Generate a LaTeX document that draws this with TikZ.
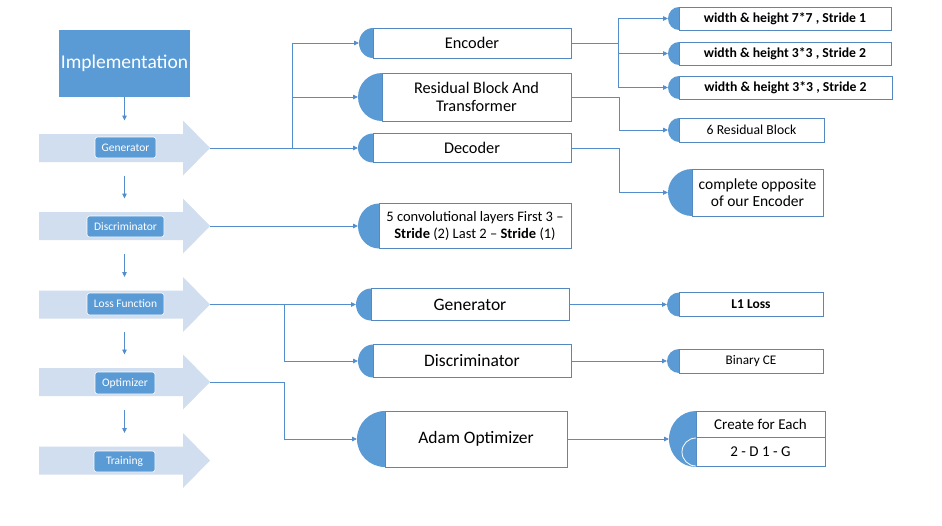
\documentclass[tikz,border=0pt]{standalone}
\usepackage{fontspec}
\setmainfont{Carlito}
\usetikzlibrary{arrows.meta}
\definecolor{mblue}{RGB}{91,155,213}
\definecolor{lblue}{RGB}{208,222,239}
\definecolor{bord}{RGB}{84,136,192}
\definecolor{connc}{RGB}{84,141,204}
\newcommand\hdisc[3]{%
  \fill[mblue] (#1.south west) arc[start angle=90,end angle=270,x radius=#2,y radius=#3] -- cycle;
  \coordinate (#1-in) at ([xshift=-#2pt]#1.west);}
\tikzset{barrow/.pic={
  \fill[lblue] (-85.5,-14) -- (58.5,-14) -- (58.5,-27.5) -- (85.5,0) -- (58.5,27.5) -- (58.5,14) -- (-85.5,14) -- cycle;
  \coordinate (-tip) at (85.5,0);
  \coordinate (-top) at (0,-27.5);
  \coordinate (-bot) at (0,27.5);
}}
\begin{document}
\begin{tikzpicture}[x=1pt,y=-1pt,
  conn/.style={draw=connc, line width=0.8pt, -{Triangle[length=5pt,width=4.5pt]}},
  box/.style={draw=bord, line width=0.8pt, fill=white, inner sep=0pt, outer sep=0pt, align=center, text=black},
  lab/.style={fill=mblue, draw=white, line width=0.6pt, rounded corners=2.5pt, text=white, inner sep=0pt, outer sep=0pt, font=\fontsize{11.5}{13}\selectfont},
  fa/.style={font=\fontsize{16.3}{18.5}\selectfont},
  fb/.style={font=\fontsize{17.5}{20}\selectfont},
  fc/.style={font=\fontsize{13.7}{16}\selectfont\bfseries}]
\useasboundingbox (0,0) rectangle (942,525);
\fill[white] (0,0) rectangle (942,525);

% left column
\node[fill=mblue, minimum width=131, minimum height=67, inner sep=0pt, outer sep=0pt, text=white, font=\fontsize{19.5}{22}\selectfont] (impl) at (124.5,63.5) {Implementation};
\pic (ga) at (124.5,148) {barrow};
\pic (da) at (124.5,226) {barrow};
\pic (la) at (124.5,304.5) {barrow};
\pic (oa) at (124.5,382) {barrow};
\pic (ta) at (124.5,460.5) {barrow};
\node[lab, minimum width=61, minimum height=21] (gl) at (125.5,147.5) {Generator};
\node[lab, minimum width=77, minimum height=21] (dl) at (125.5,226.5) {Discriminator};
\node[lab, minimum width=77, minimum height=22] (ll) at (125.5,304) {Loss Function};
\node[lab, minimum width=60, minimum height=22] (ol) at (125,383) {Optimizer};
\node[lab, minimum width=61, minimum height=21] (tl) at (124.5,461.5) {Training};
\draw[conn] (impl.south) -- (ga-top);
\draw[conn] (ga-bot) -- (da-top);
\draw[conn] (da-bot) -- (la-top);
\draw[conn] (la-bot) -- (oa-top);
\draw[conn] (oa-bot) -- (ta-top);

% middle column
\node[box, fa, minimum width=198, minimum height=30] (enc) at (472,43) {Encoder};
\hdisc{enc}{14}{15}
\node[box, fa, minimum width=189, minimum height=48] (res) at (476.5,97) {Residual Block And\\Transformer};
\hdisc{res}{24}{24}
\node[box, fa, minimum width=198, minimum height=29] (dec) at (472,148) {Decoder};
\hdisc{dec}{15}{14.5}
\node[box, font=\fontsize{14.5}{16.5}\selectfont, minimum width=192, minimum height=45] (conv) at (475,226) {5 convolutional layers First 3 –\\\textbf{Stride} (2) Last 2 – \textbf{Stride} (1)};
\hdisc{conv}{21}{22.5}
\node[box, fb, minimum width=198, minimum height=32] (lgen) at (470,304.5) {Generator};
\hdisc{lgen}{15}{16}
\node[box, fb, minimum width=198, minimum height=33] (ldis) at (472,361) {Discriminator};
\hdisc{ldis}{15}{16.5}
\node[box, fb, minimum width=182, minimum height=56] (adam) at (476,439) {Adam Optimizer};
\hdisc{adam}{28}{28}

% right column
\node[box, fc, minimum width=212, minimum height=23] (w1) at (785,18.5) {width \& height 7*7 , Stride 1};
\hdisc{w1}{11}{11.5}
\node[box, fc, minimum width=212, minimum height=23] (w2) at (785,53.5) {width \& height 3*3 , Stride 2};
\hdisc{w2}{11}{11.5}
\node[box, fc, minimum width=213, minimum height=23] (w3) at (785.5,87.5) {width \& height 3*3 , Stride 2};
\hdisc{w3}{11}{11.5}
\node[box, font=\fontsize{13.7}{16}\selectfont, minimum width=145, minimum height=24] (r6) at (751.5,130) {6 Residual Block};
\hdisc{r6}{11}{12}
\node[box, font=\fontsize{15.5}{17}\selectfont, minimum width=131, minimum height=47] (opp) at (757.5,192.5) {complete opposite\\of our Encoder};
\hdisc{opp}{24}{23.5}
\node[box, font=\fontsize{13.5}{15}\selectfont\bfseries, minimum width=144, minimum height=24] (l1) at (751,304.5) {L1 Loss};
\hdisc{l1}{12}{12}
\node[box, font=\fontsize{13.2}{15}\selectfont, minimum width=144, minimum height=24] (bce) at (751,361) {Binary CE};
\hdisc{bce}{12}{12}
\node[box, font=\fontsize{15}{17}\selectfont, minimum width=129, minimum height=26] (cfe) at (760.5,424) {Create for Each};
\node[box, font=\fontsize{15}{17}\selectfont, minimum width=129, minimum height=29] (dg) at (760.5,451.5) {2 - D 1 - G};
\coordinate (cc) at (696,439);
\fill[mblue] (cc) ++(0,28) arc[start angle=90,end angle=270,x radius=27,y radius=28] -- cycle;
\draw[white, fill=mblue, line width=0.8pt] (dg.south west) arc[start angle=90,end angle=270,radius=14];
\coordinate (cfe-in) at (669,439);

% connectors left -> middle
\coordinate (gj) at (292,148);
\draw[conn] (ga-tip) -- (gj) |- (enc-in);
\draw[conn] (gj) |- (res-in);
\draw[conn] (gj) -- (dec-in);
\draw[conn] (da-tip) -- (conv-in);
\coordinate (lj) at (284,304.5);
\draw[conn] (la-tip) -- (lgen-in);
\draw[conn] (lj) |- (ldis-in);
\coordinate (oj) at (284,382);
\draw[conn] (oa-tip) -- (oj) |- (adam-in);

% connectors middle -> right
\coordinate (ej) at (618,43);
\draw[conn] (enc.east) -- (ej) |- (w1-in);
\draw[conn] (ej) |- (w2-in);
\draw[conn] (ej) |- (w3-in);
\draw[conn] (res.east) -- ++(48,0) |- (r6-in);
\draw[conn] (dec.east) -- ++(48,0) |- (opp-in);
\draw[conn] (lgen.east) -- (l1-in);
\draw[conn] (ldis.east) -- (bce-in);
\draw[conn] (adam.east) -- (cfe-in);
\end{tikzpicture}
\end{document}
